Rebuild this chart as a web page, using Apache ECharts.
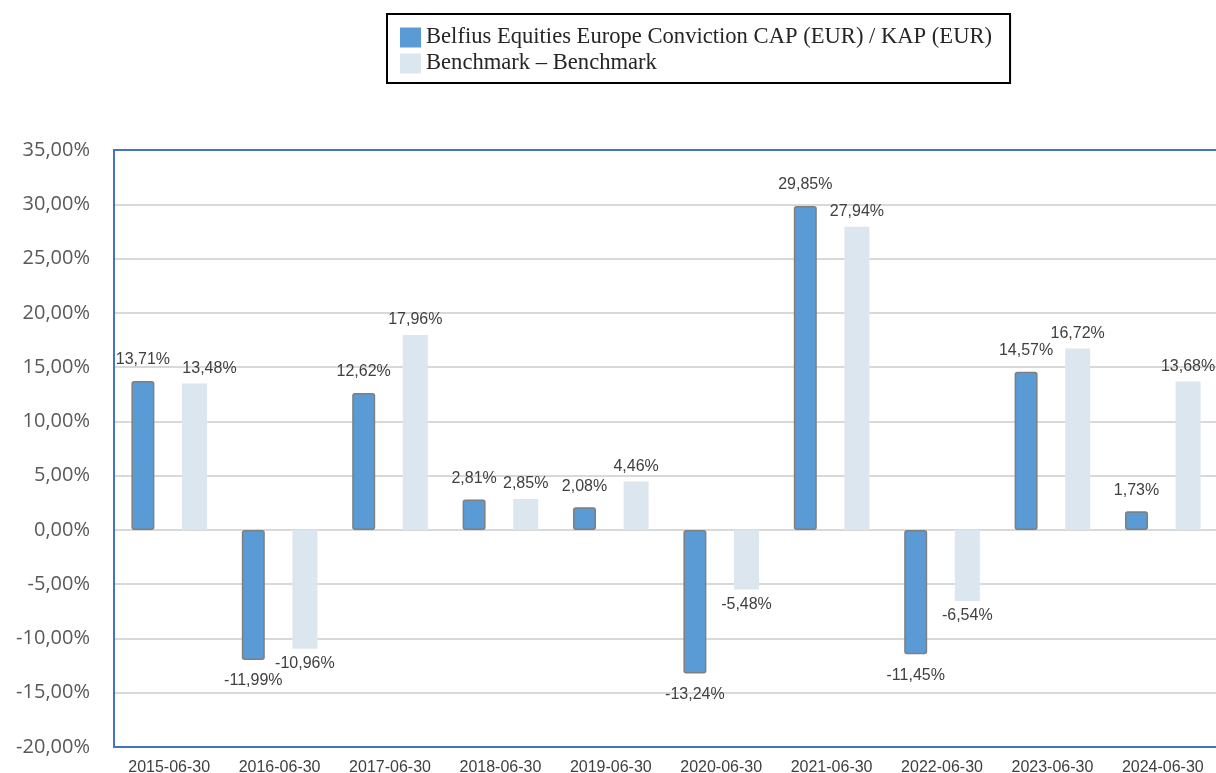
<!DOCTYPE html>
<html>
<head>
<meta charset="utf-8">
<script src="https://cdn.jsdelivr.net/npm/echarts@6/dist/echarts.min.js"></script>
<style>
  html, body { margin: 0; padding: 0; background: #fff; }
  #chart { width: 1216px; height: 773px; }
</style>
</head>
<body>
<div id="chart"></div>
<script>
var categories = ['2015-06-30', '2016-06-30', '2017-06-30', '2018-06-30', '2019-06-30',
                  '2020-06-30', '2021-06-30', '2022-06-30', '2023-06-30', '2024-06-30'];
var fundValues = [13.71, -11.99, 12.62, 2.81, 2.08, -13.24, 29.85, -11.45, 14.57, 1.73];
var benchValues = [13.48, -10.96, 17.96, 2.85, 4.46, -5.48, 27.94, -6.54, 16.72, 13.68];
var fundName = 'Belfius Equities Europe Conviction CAP (EUR) / KAP (EUR)';
var benchName = 'Benchmark – Benchmark';

function pct(v) {
  return v.toFixed(2).replace('.', ',') + '%';
}

var labelStyle = {
  show: true,
  fontFamily: 'Liberation Sans, Arial, sans-serif',
  fontSize: 16,
  color: '#404040',
  formatter: function (p) { return pct(p.value); }
};

function fundData() {
  return fundValues.map(function (v) {
    return { value: v, label: { position: v < 0 ? 'bottom' : 'top', distance: 13 } };
  });
}

function benchData() {
  return benchValues.map(function (v, i) {
    var d = { value: v, label: { position: v < 0 ? 'bottom' : 'top', distance: 7 } };
    if (i === 0) d.label.offset = [15, 0];
    return d;
  });
}

var chart = echarts.init(document.getElementById('chart'));
chart.setOption({
  animation: false,
  legend: {
    orient: 'vertical',
    left: 387,
    top: 14,
    padding: [12, 18, 8, 13],
    borderColor: '#000',
    borderWidth: 2,
    itemWidth: 21,
    itemHeight: 20,
    itemGap: 3,
    itemTextGap: 7,
    icon: 'rect',
    textStyle: {
      fontFamily: 'Liberation Serif, Times New Roman, serif',
      fontSize: 22.6,
      lineHeight: 20,
      color: '#262626'
    },
    data: [
      { name: fundName, itemStyle: { borderWidth: 0 } },
      { name: benchName }
    ]
  },
  grid: {
    left: 114,
    top: 150,
    width: 1104,
    bottom: 26,
    outerBoundsMode: 'none'
  },
  xAxis: [
    {
      type: 'category',
      data: categories,
      axisLine: { show: true, onZero: false, lineStyle: { color: '#4472C4', width: 2 } },
      axisTick: { show: false },
      axisLabel: {
        margin: 13,
        fontFamily: 'Liberation Sans, Arial, sans-serif',
        fontSize: 16,
        color: '#404040'
      }
    },
    {
      type: 'category',
      position: 'top',
      data: categories,
      axisLine: { show: true, onZero: false, lineStyle: { color: '#4472C4', width: 2 } },
      axisTick: { show: false },
      axisLabel: { show: false }
    }
  ],
  yAxis: {
    type: 'value',
    min: -20,
    max: 35,
    interval: 5,
    axisLine: { show: true, lineStyle: { color: '#4472C4', width: 2 } },
    axisTick: { show: false },
    splitLine: { lineStyle: { color: '#d9d9d9', width: 2 } },
    axisLabel: {
      margin: 24,
      fontFamily: 'Open Sans, Liberation Sans, sans-serif',
      fontSize: 20,
      color: '#595959',
      formatter: function (v) { return pct(v); }
    }
  },
  series: [
    {
      name: fundName,
      type: 'bar',
      barWidth: 23,
      barGap: '120%',
      itemStyle: { color: '#5B9BD5', borderColor: '#7f7f7f', borderWidth: 1.5, borderRadius: 2 },
      label: labelStyle,
      data: fundData()
    },
    {
      name: benchName,
      type: 'bar',
      barWidth: 25,
      itemStyle: { color: '#DCE6EE' },
      label: labelStyle,
      data: benchData()
    }
  ]
});
</script>
</body>
</html>
